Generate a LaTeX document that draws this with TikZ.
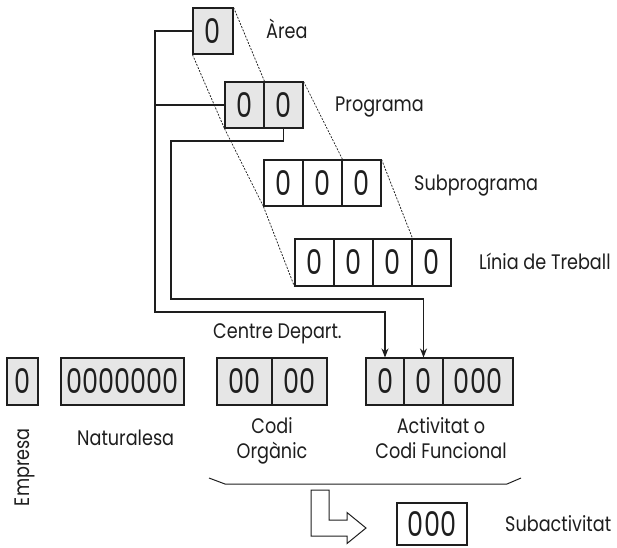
\documentclass[tikz,border=0pt]{standalone}
\usepackage{fontspec}
\setmainfont{Poppins}
\newfontfamily\lblfont[FakeStretch=0.84]{Poppins}
\newfontfamily\digfont[FakeStretch=0.75]{Poppins}
\usetikzlibrary{arrows.meta}
\definecolor{ink}{HTML}{1E1E1E}
\definecolor{cellgray}{HTML}{E6E6E6}
\begin{document}
\begin{tikzpicture}[x=1pt,y=-1pt,
  cell/.style={draw=ink, line width=1.1pt, fill=cellgray, minimum height=46pt, inner sep=0pt,
    font=\digfont\fontsize{34}{34}\selectfont, text=ink},
  wcell/.style={cell, fill=white},
  lbl/.style={font=\lblfont\fontsize{21}{25}\selectfont, text=ink, inner sep=0pt},
  proj/.style={draw=ink, line width=0.75pt, dash pattern=on 2pt off 1.4pt},
  link/.style={draw=ink, line width=1.1pt},
  tip/.style={link, -{Stealth[length=9pt,width=7pt]}}
]
\useasboundingbox (0,0) rectangle (617,547);

% upper hierarchy
\node[cell, minimum width=40pt] (a1) at (213,31) {0};
\node[cell, minimum width=39pt] (p1) at (244.5,105) {0};
\node[cell, minimum width=39pt] (p2) at (283.5,105) {0};
\node[wcell, minimum width=39pt] (s1) at (283.5,183) {0};
\node[wcell, minimum width=39pt] (s2) at (322.5,183) {0};
\node[wcell, minimum width=39pt] (s3) at (361.5,183) {0};
\node[wcell, minimum width=39pt, minimum height=47pt] (l1) at (314.5,262.5) {0};
\node[wcell, minimum width=39pt, minimum height=47pt] (l2) at (353.5,262.5) {0};
\node[wcell, minimum width=39pt, minimum height=47pt] (l3) at (392.5,262.5) {0};
\node[wcell, minimum width=39pt, minimum height=47pt] (l4) at (431.5,262.5) {0};

\node[lbl, anchor=base west] (tA) at (266,38.5) {Àrea};
\node[lbl, anchor=base west] (tP) at (335,111) {Programa};
\node[lbl, anchor=base west] (tS) at (414,190) {Subprograma};
\node[lbl, anchor=base west] (tL) at (479,269.5) {Línia de Treball};

% projections
\draw[proj] (a1.south west) -- (p1.south west);
\draw[proj] (a1.north east) -- (p1.north east);
\draw[proj] (p1.south west) -- (s1.south west);
\draw[proj] (p2.north east) -- (s2.north east);
\draw[proj] (s1.south west) -- (l1.south west);
\draw[proj] (s3.north east) -- (l3.north east);

% bottom row
\node[cell, minimum width=31pt, minimum height=47pt] (e1) at (22.5,381.5) {0};
\node[cell, minimum width=123pt, minimum height=47pt] (n1) at (122.5,381.5) {0000000};
\node[cell, minimum width=55pt, minimum height=47pt] (c1) at (244.5,381.5) {00};
\node[cell, minimum width=55pt, minimum height=47pt] (c2) at (299.5,381.5) {00};
\node[cell, minimum width=38pt, minimum height=47pt] (f1) at (385,381.5) {0};
\node[cell, minimum width=39pt, minimum height=47pt] (f2) at (423.5,381.5) {0};
\node[cell, minimum width=70pt, minimum height=47pt] (f3) at (478,381.5) {000};

\node[lbl, anchor=base west] (tC) at (213,338) {Centre Depart.};
\node[lbl, rotate=90, anchor=base east] (tE) at (29,428) {Empresa};
\node[lbl, anchor=base west] (tN) at (77,445) {Naturalesa};
\node[lbl, anchor=base] (tO1) at (272,433) {Codi};
\node[lbl, anchor=base] (tO2) at (272,458) {Orgànic};
\node[lbl, anchor=base] (tF1) at (441,433) {Activitat o};
\node[lbl, anchor=base] (tF2) at (441,458) {Codi Funcional};

% connectors
\coordinate (r1) at (155,312);
\coordinate (k3) at (171,141);
\coordinate (k4) at (171,299);
\draw[tip] (a1.west) -| (r1) -| (f1.north);
\draw[link] (p1.west) -- (p1.west -| r1);
\draw[tip] (p2.south) |- (k3) -- (k4) -| (f2.north);

% brace line
\coordinate (b1) at (209,478);
\coordinate (b2) at (225,484);
\coordinate (b3) at (507,484);
\coordinate (b4) at (521,478);
\draw[link, line width=1pt] (b1) -- (b2) -- (b3) -- (b4);

% hollow L arrow
\draw[link, line width=1pt, line join=miter]
  (311,490) -- (329,490) -- (329,520) -- (347,520) -- (347,512.5) -- (366,528)
  -- (347,543.5) -- (347,536) -- (311,536) -- cycle;

% subactivitat
\node[wcell, minimum width=70pt, minimum height=42pt] (sa) at (432,524) {000};
\node[lbl, anchor=base west] (tSA) at (505,531.5) {Subactivitat};
\end{tikzpicture}
\end{document}
